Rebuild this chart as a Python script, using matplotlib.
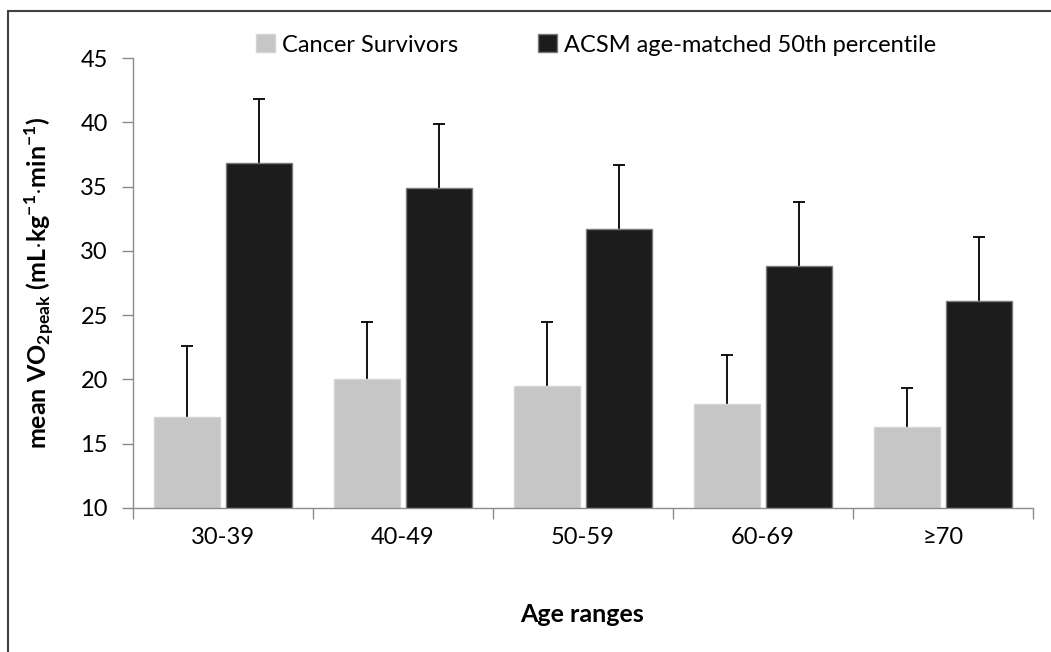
import numpy as np
import matplotlib
matplotlib.use('Agg')
import matplotlib.pyplot as plt
from matplotlib.patches import Rectangle

plt.rcParams['font.family'] = ['Lato', 'DejaVu Sans']
plt.rcParams['mathtext.fontset'] = 'custom'
plt.rcParams['mathtext.rm'] = 'Lato'
plt.rcParams['mathtext.bf'] = 'Lato:bold'

# dados
faixas = ['30-39', '40-49', '50-59', '60-69', '≥70']
sobreviventes = [17.1, 20.0, 19.5, 18.1, 16.3]
sobreviventes_dp = [5.5, 4.5, 5.0, 3.8, 3.0]
acsm = [36.8, 34.9, 31.7, 28.8, 26.1]
acsm_dp = [5.0, 5.0, 5.0, 5.0, 5.0]

cor_cinza = '#c6c6c6'
cor_preta = '#1c1c1c'
cor_eixo = '#8c8c8c'

fig = plt.figure(figsize=(10.51, 6.52), dpi=100)
ax = fig.add_axes([0.1265, 0.2209, 0.983 - 0.1265, 0.911 - 0.2209])

x = np.arange(len(faixas))
largura = 0.37
desloc = 0.2

ax.bar(x - desloc, sobreviventes, largura, color=cor_cinza,
       edgecolor='#d4d4d4', linewidth=1, label='Cancer Survivors', zorder=2)
ax.bar(x + desloc, acsm, largura, color=cor_preta,
       edgecolor='#7a7a7a', linewidth=1, label='ACSM age-matched 50th percentile', zorder=2)

# barras de erro só para cima (esconde o traço de baixo)
for pos, val, dp in [(x - desloc, sobreviventes, sobreviventes_dp), (x + desloc, acsm, acsm_dp)]:
    eb = ax.errorbar(pos, val, yerr=[np.zeros(len(x)), dp], fmt='none', ecolor='black',
                     elinewidth=1.3, capsize=4.5, capthick=1.3, zorder=1)
    eb[1][0].set_visible(False)

ax.set_ylim(10, 45)
ax.set_xlim(-0.5, len(faixas) - 0.5)
ax.set_yticks(range(10, 46, 5))

# rótulos no centro dos grupos, marcas entre os grupos
ax.set_xticks(x)
ax.set_xticklabels(faixas, fontsize=17)
ax.tick_params(axis='x', which='major', length=0, pad=14)
ax.set_xticks(np.arange(-0.5, len(faixas)), minor=True)
ax.tick_params(axis='x', which='minor', length=8, width=1, color=cor_eixo, direction='out')
ax.tick_params(axis='y', length=8, width=1, color=cor_eixo, labelsize=17, pad=10)

for lado in ['top', 'right']:
    ax.spines[lado].set_visible(False)
for lado in ['left', 'bottom']:
    ax.spines[lado].set_color(cor_eixo)
    ax.spines[lado].set_linewidth(1)

ax.set_ylabel(r'mean VO$_{\mathbf{2peak}}$ (mL$\cdot$kg$^{\mathbf{-1}}$$\cdot$min$^{\mathbf{-1}}$)',
              fontsize=18, fontweight='bold')
ax.yaxis.set_label_coords(-0.085, 0.5)
fig.text(0.5535, 1 - 615 / 652, 'Age ranges', fontsize=18, fontweight='bold',
         ha='center', va='center')

fig.legend(loc='center', bbox_to_anchor=(596 / 1051, 1 - 45 / 652), ncol=2,
           frameon=False, fontsize=17, handlelength=0.8, handleheight=0.8,
           handletextpad=0.3, columnspacing=3.4)

# moldura da figura (cortada à direita e embaixo)
fig.patches.append(Rectangle((8 / 1051, -0.1), 1.2, 1.1 - 11 / 652,
                             transform=fig.transFigure, fill=False,
                             edgecolor='#404040', linewidth=1.5))

fig.savefig('out.png', dpi=100)
